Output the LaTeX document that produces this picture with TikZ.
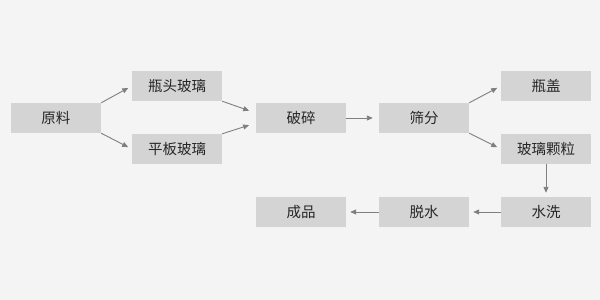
\documentclass[tikz,border=0pt]{standalone}
\usepackage{fontspec}
\newfontfamily\cjk{Noto Sans CJK SC}
\usetikzlibrary{arrows.meta}
\definecolor{bggray}{HTML}{F4F4F4}
\definecolor{boxgray}{HTML}{D4D4D4}
\definecolor{linegray}{HTML}{7F7F7F}
\definecolor{txtgray}{HTML}{262626}

\begin{document}
\begin{tikzpicture}[x=1pt,y=-1pt,
    box/.style={fill=boxgray, minimum width=90pt, minimum height=30pt, inner sep=0pt,
      text=txtgray, font=\cjk\fontsize{14.5}{16}\selectfont},
    arr/.style={draw=linegray, line width=0.9pt,
      -{Triangle[length=6pt,width=5pt]}, shorten >=4pt}]
  % 背景
  \fill[bggray] (0,0) rectangle (600,300);

  % 上面两行
  \node[box] (yl)   at (56,118)  {原料};
  \node[box] (ptbl) at (177,86)  {瓶头玻璃};
  \node[box] (pbbl) at (177,149) {平板玻璃};
  \node[box] (ps)   at (301,118) {破碎};
  \node[box] (sf)   at (424,118) {筛分};
  \node[box] (pg)   at (546,86)  {瓶盖};
  \node[box] (blkl) at (546,149) {玻璃颗粒};

  % 下面一行
  \node[box] (sx)   at (546,212) {水洗};
  \node[box] (ts)   at (424,212) {脱水};
  \node[box] (cp)   at (301,212) {成品};

  % 箭头
  \draw[arr] (yl.north east) -- (ptbl.west);
  \draw[arr] (yl.south east) -- (pbbl.west);
  \draw[arr, shorten >=7pt] (ptbl.south east) -- ([yshift=5pt]ps.west);
  \draw[arr, shorten >=7pt] (pbbl.north east) -- ([yshift=-5pt]ps.west);
  \draw[arr, shorten >=6pt] (ps) -- (sf);
  \draw[arr] (sf.north east) -- (pg.west);
  \draw[arr] (sf.south east) -- (blkl.west);
  \draw[arr] (blkl) -- (sx);
  \draw[arr] (sx) -- (ts);
  \draw[arr] (ts) -- (cp);
\end{tikzpicture}
\end{document}
